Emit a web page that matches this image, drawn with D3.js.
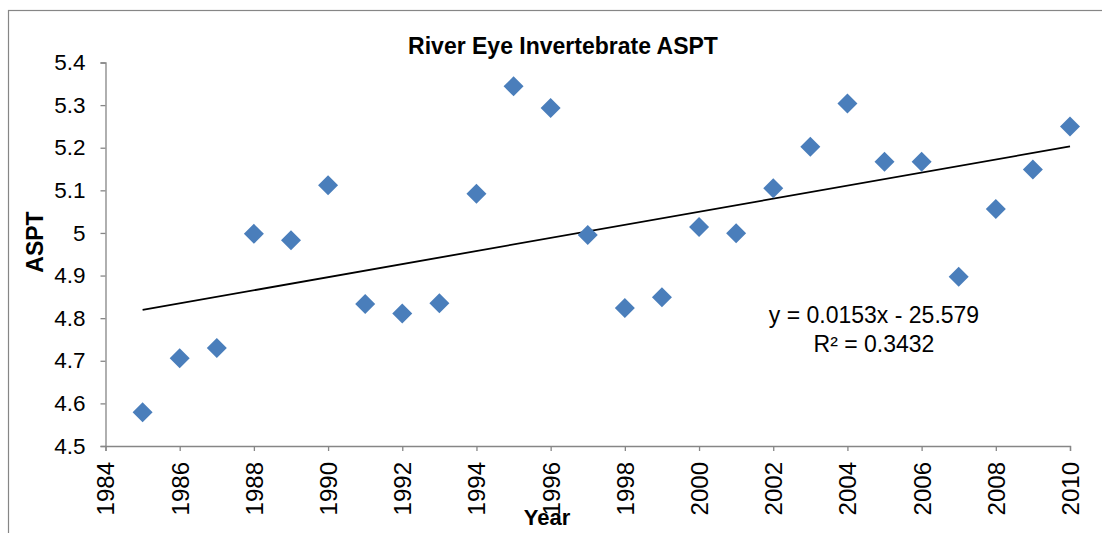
<!DOCTYPE html>
<html>
<head>
<meta charset="utf-8">
<script src="https://cdn.jsdelivr.net/npm/d3@7"></script>
<style>
  body { margin: 0; background: #fff; }
  svg { display: block; font-family: Arial, "Liberation Sans", sans-serif; }
</style>
</head>
<body>
<div id="chart"></div>
<script>
// data
var years = [1985,1986,1987,1988,1989,1990,1991,1992,1993,1994,1995,1996,1997,
             1998,1999,2000,2001,2002,2003,2004,2005,2006,2007,2008,2009,2010];
var aspt = [4.579,4.706,4.730,4.998,4.983,5.112,4.833,4.811,4.835,5.092,5.344,5.293,4.995,
            4.824,4.849,5.014,4.999,5.105,5.202,5.304,5.167,5.167,4.897,5.056,5.149,5.250];
var yTicks = [4.5,4.6,4.7,4.8,4.9,5,5.1,5.2,5.3,5.4];
var xTicks = [1984,1986,1988,1990,1992,1994,1996,1998,2000,2002,2004,2006,2008,2010];
var eqLines = ["y = 0.0153x - 25.579", "R\u00b2 = 0.3432"];

var w = 1102, h = 533;
var axisCol = "#868686";

var svg = d3.select("#chart").append("svg")
  .attr("width", w)
  .attr("height", h);

// chart area border (runs off the right / bottom edge like the screenshot)
svg.append("rect")
  .attr("x", 8.5).attr("y", 10.5)
  .attr("width", 1300).attr("height", 700)
  .attr("fill", "none")
  .attr("stroke", axisCol)
  .attr("stroke-width", 1.2);

var x = d3.scaleLinear().domain([1984, 2010]).range([105.5, 1070]);
var y = d3.scaleLinear().domain([4.5, 5.4]).range([446, 62.5]);

// y axis
var yAxis = svg.append("g")
  .attr("transform", "translate(" + x(1984) + ",0)")
  .call(d3.axisLeft(y).tickValues(yTicks).tickSize(5).tickPadding(15)
        .tickFormat(function(d){ return d3.format("")(+d.toFixed(1)); }));
yAxis.selectAll("text").attr("font-size", 22.5).attr("fill", "#000")
  .attr("font-family", "Arial, 'Liberation Sans', sans-serif");

// x axis
var xAxis = svg.append("g")
  .attr("transform", "translate(0," + y(4.5) + ")")
  .call(d3.axisBottom(x).tickValues(xTicks).tickSize(5).tickFormat(d3.format("d")));
xAxis.selectAll("text")
  .attr("font-size", 24).attr("fill", "#000")
  .attr("font-family", "Arial, 'Liberation Sans', sans-serif")
  .attr("text-anchor", "end")
  .attr("transform", "rotate(-90)")
  .attr("x", -16).attr("y", 0).attr("dy", "0.35em");

svg.selectAll(".domain, .tick line")
  .attr("stroke", axisCol)
  .attr("stroke-width", 1.3);

// linear trendline (least squares from the data)
var n = years.length;
var mx = d3.mean(years), my = d3.mean(aspt);
var sxy = 0, sxx = 0;
for (var i = 0; i < n; i++) {
  sxy += (years[i] - mx) * (aspt[i] - my);
  sxx += (years[i] - mx) * (years[i] - mx);
}
var slope = sxy / sxx;
var icpt = my - slope * mx;
var x0 = d3.min(years), x1 = d3.max(years);
svg.append("line")
  .attr("x1", x(x0)).attr("y1", y(slope * x0 + icpt))
  .attr("x2", x(x1)).attr("y2", y(slope * x1 + icpt))
  .attr("stroke", "#000")
  .attr("stroke-width", 1.8);

// diamond markers
var diamond = d3.symbol().type(d3.symbolSquare).size(200);
svg.selectAll("path.pt")
  .data(years)
  .enter().append("path")
  .attr("class", "pt")
  .attr("d", diamond)
  .attr("fill", "#4a7ebb")
  .attr("transform", function(d, i) {
    return "translate(" + x(d) + "," + y(aspt[i]) + ") rotate(45)";
  });

// equation label
svg.selectAll("text.eq")
  .data(eqLines)
  .enter().append("text")
  .attr("class", "eq")
  .attr("x", 874)
  .attr("y", function(d, i) { return 323 + i * 29; })
  .attr("text-anchor", "middle")
  .attr("font-size", 23)
  .text(function(d) { return d; });

// titles
svg.append("text")
  .attr("x", 563).attr("y", 54)
  .attr("text-anchor", "middle")
  .attr("font-size", 23).attr("font-weight", "bold")
  .text("River Eye Invertebrate ASPT");

svg.append("text")
  .attr("transform", "translate(43,242) rotate(-90)")
  .attr("text-anchor", "middle")
  .attr("font-size", 23).attr("font-weight", "bold")
  .text("ASPT");

svg.append("text")
  .attr("x", 547).attr("y", 525)
  .attr("text-anchor", "middle")
  .attr("font-size", 22).attr("font-weight", "bold")
  .text("Year");
</script>
</body>
</html>
